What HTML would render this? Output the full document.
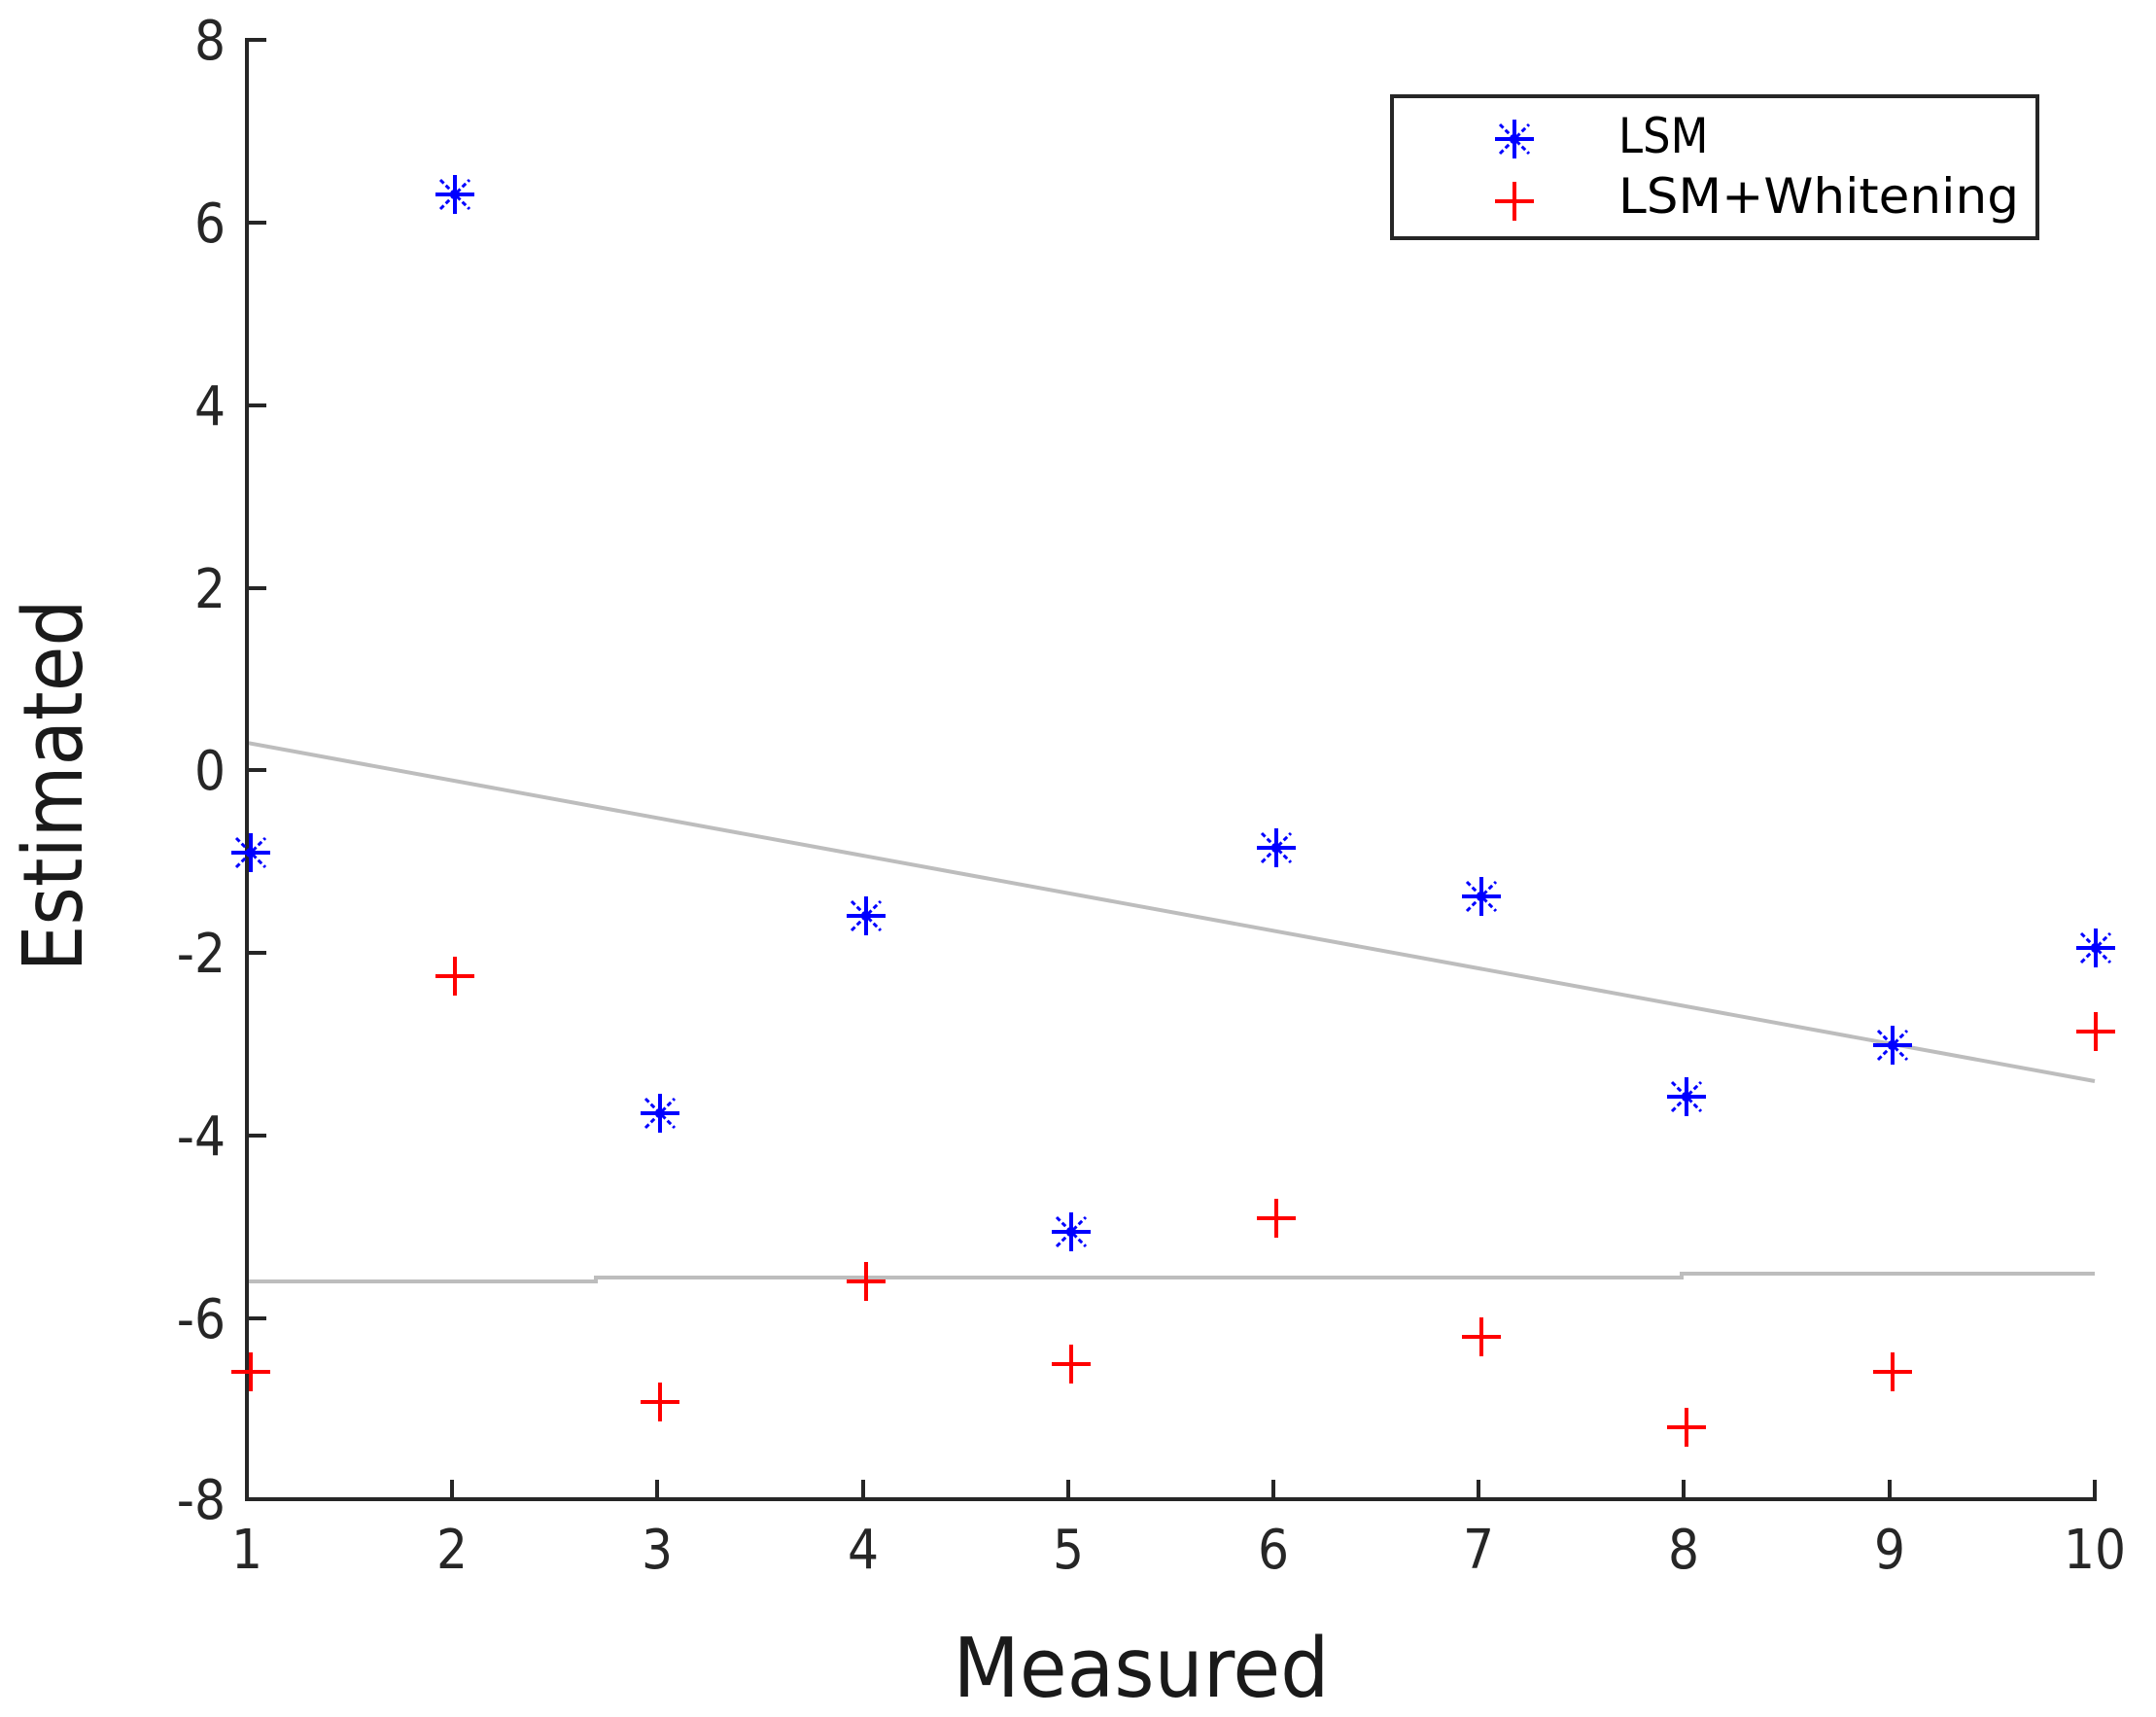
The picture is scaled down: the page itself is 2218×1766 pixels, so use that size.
<!DOCTYPE html>
<html><head><meta charset="utf-8"><style>
html,body{margin:0;padding:0;background:#fff;}
svg{display:block;}
text{font-family:"DejaVu Sans Condensed","DejaVu Sans","Liberation Sans",sans-serif;}
</style></head><body>
<svg width="2218" height="1766" viewBox="0 0 2218 1766" xmlns="http://www.w3.org/2000/svg">
<defs>
<g id="st" stroke="#0000ff" stroke-width="4" fill="none">
<line x1="-20" y1="0" x2="20" y2="0"/>
<line x1="0" y1="-20" x2="0" y2="20"/>
<line x1="-15" y1="-15" x2="15" y2="15" stroke-width="3" stroke-dasharray="5 3"/>
<line x1="-15" y1="15" x2="15" y2="-15" stroke-width="3" stroke-dasharray="5 3"/>
</g>
<g id="pl" stroke="#ff0000" stroke-width="4" fill="none">
<line x1="-20" y1="0" x2="20" y2="0"/>
<line x1="0" y1="-20" x2="0" y2="20"/>
</g>
</defs>
<polyline points="254,764 2155,1112" stroke="#bdbdbd" stroke-width="4" fill="none"/>
<polyline points="254,1318 613,1318 613,1314 1730,1314 1730,1310 2155,1310" stroke="#bdbdbd" stroke-width="4" fill="none"/>
<g stroke="#262626" stroke-width="4" fill="none">
<polyline points="274,41 254,41 254,1542 2155,1542 2155,1522"/>
<line x1="254" y1="229" x2="274" y2="229"/>
<line x1="254" y1="417" x2="274" y2="417"/>
<line x1="254" y1="605" x2="274" y2="605"/>
<line x1="254" y1="792" x2="274" y2="792"/>
<line x1="254" y1="980" x2="274" y2="980"/>
<line x1="254" y1="1168" x2="274" y2="1168"/>
<line x1="254" y1="1356" x2="274" y2="1356"/>
<line x1="465" y1="1542" x2="465" y2="1522"/>
<line x1="676" y1="1542" x2="676" y2="1522"/>
<line x1="888" y1="1542" x2="888" y2="1522"/>
<line x1="1099" y1="1542" x2="1099" y2="1522"/>
<line x1="1310" y1="1542" x2="1310" y2="1522"/>
<line x1="1521" y1="1542" x2="1521" y2="1522"/>
<line x1="1732" y1="1542" x2="1732" y2="1522"/>
<line x1="1944" y1="1542" x2="1944" y2="1522"/>
</g>
<g font-size="56" fill="#262626" text-anchor="end">
<text x="232" y="61">8</text>
<text x="232" y="249">6</text>
<text x="232" y="437">4</text>
<text x="232" y="625">2</text>
<text x="232" y="812">0</text>
<text x="232" y="1000">-2</text>
<text x="232" y="1188">-4</text>
<text x="232" y="1376">-6</text>
<text x="232" y="1562">-8</text>
</g>
<g font-size="56" fill="#262626" text-anchor="middle">
<text x="254" y="1613">1</text>
<text x="465" y="1613">2</text>
<text x="676" y="1613">3</text>
<text x="888" y="1613">4</text>
<text x="1099" y="1613">5</text>
<text x="1310" y="1613">6</text>
<text x="1521" y="1613">7</text>
<text x="1732" y="1613">8</text>
<text x="1944" y="1613">9</text>
<text x="2155" y="1613">10</text>
</g>
<text x="1174" y="1745" font-size="85" fill="#1a1a1a" text-anchor="middle" textLength="387" lengthAdjust="spacingAndGlyphs">Measured</text>
<text transform="translate(84,808) rotate(-90)" font-size="85" fill="#1a1a1a" text-anchor="middle" textLength="383" lengthAdjust="spacingAndGlyphs">Estimated</text>
<use href="#st" x="258" y="877"/>
<use href="#st" x="468" y="200"/>
<use href="#st" x="679" y="1145"/>
<use href="#st" x="891" y="942"/>
<use href="#st" x="1102" y="1267"/>
<use href="#st" x="1313" y="872"/>
<use href="#st" x="1524" y="922"/>
<use href="#st" x="1735" y="1128"/>
<use href="#st" x="1947" y="1075"/>
<use href="#st" x="2156" y="975"/>
<use href="#pl" x="258" y="1411"/>
<use href="#pl" x="468" y="1004"/>
<use href="#pl" x="679" y="1442"/>
<use href="#pl" x="891" y="1318"/>
<use href="#pl" x="1102" y="1403"/>
<use href="#pl" x="1313" y="1253"/>
<use href="#pl" x="1524" y="1375"/>
<use href="#pl" x="1735" y="1468"/>
<use href="#pl" x="1947" y="1411"/>
<use href="#pl" x="2156" y="1061"/>
<rect x="1432" y="99" width="664" height="146" fill="#fff" stroke="#262626" stroke-width="4"/>
<use href="#st" x="1558" y="143"/>
<use href="#pl" x="1558" y="207"/>
<g font-size="50" fill="#000">
<text x="1665" y="157">LSM</text>
<text x="1665" y="219" textLength="412" lengthAdjust="spacingAndGlyphs">LSM+Whitening</text>
</g>
</svg>
</body></html>
